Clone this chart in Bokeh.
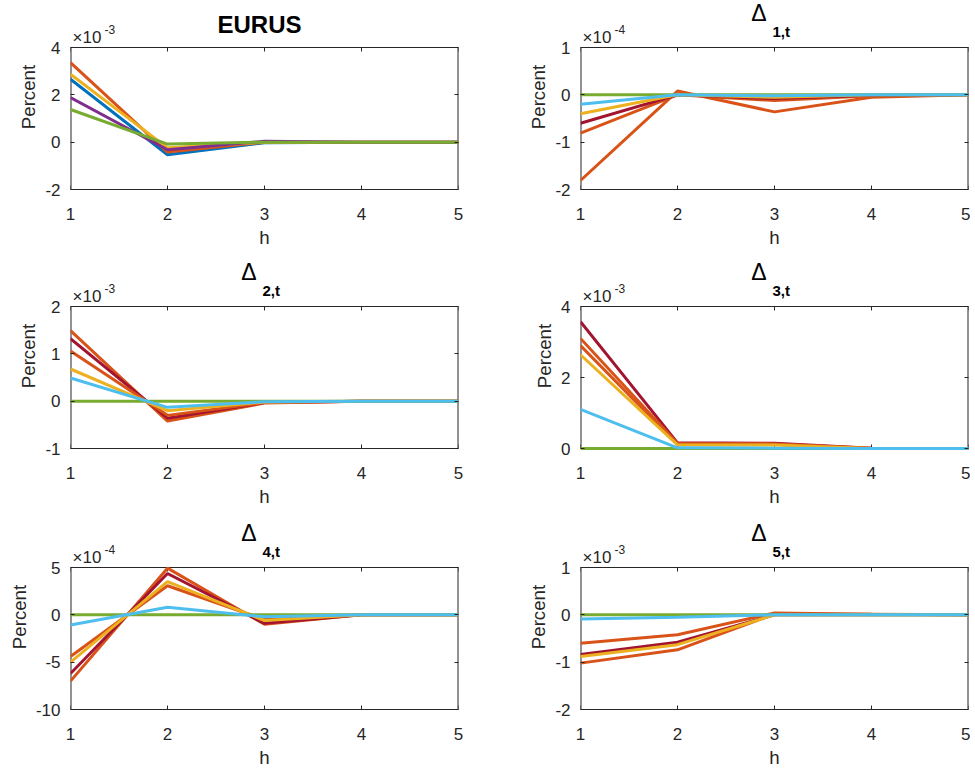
import math
from bokeh.plotting import figure
from bokeh.models import LinearAxis, FixedTicker, CustomJSTickFormatter, Range1d, Label
from bokeh.layouts import column, row
from bokeh.embed import file_html
from bokeh.resources import INLINE

# ---------------- data ----------------
H = [1, 2, 3, 4, 5]
X_TICKS = [1, 2, 3, 4, 5]

# MATLAB default colour order
C_BLUE = "#0072BD"
C_ORANGE = "#D95319"
C_YELLOW = "#EDB120"
C_PURPLE = "#7E2F8E"
C_GREEN = "#77AC30"
C_LBLUE = "#4DBEEE"
C_DRED = "#A2142F"

# EURUS (percent)
eurus_blue = [2.66e-3, -0.53e-3, -0.02e-3, 0.0, 0.0]
eurus_orange = [3.36e-3, -0.42e-3, 0.0, 0.0, 0.0]
eurus_yellow = [2.87e-3, -0.24e-3, 0.0, 0.0, 0.0]
eurus_purple = [1.88e-3, -0.32e-3, 0.04e-3, 0.0, 0.0]
eurus_green = [1.38e-3, -0.08e-3, 0.0, 0.0, 0.0]
eurus_yticks = [-2e-3, 0.0, 2e-3, 4e-3]

# Delta 1,t
d1_orange_a = [-1.81e-4, 0.08e-4, -0.36e-4, -0.05e-4, 0.0]
d1_orange_b = [-0.81e-4, 0.0, -0.12e-4, -0.02e-4, 0.0]
d1_dred = [-0.60e-4, 0.0, -0.08e-4, -0.01e-4, 0.0]
d1_yellow = [-0.40e-4, 0.0, -0.05e-4, 0.0, 0.0]
d1_green = [0.0, 0.0, 0.0, 0.0, 0.0]
d1_lblue = [-0.20e-4, 0.0, -0.02e-4, 0.0, 0.0]
d1_yticks = [-2e-4, -1e-4, 0.0, 1e-4]

# Delta 2,t
d2_orange_a = [1.49e-3, -0.42e-3, -0.04e-3, 0.0, 0.0]
d2_dred = [1.32e-3, -0.36e-3, -0.03e-3, 0.0, 0.0]
d2_orange_b = [1.06e-3, -0.30e-3, -0.03e-3, 0.0, 0.0]
d2_yellow = [0.68e-3, -0.20e-3, -0.02e-3, 0.0, 0.0]
d2_green = [0.0, 0.0, 0.0, 0.0, 0.0]
d2_lblue = [0.49e-3, -0.13e-3, -0.01e-3, 0.0, 0.0]
d2_yticks = [-1e-3, 0.0, 1e-3, 2e-3]

# Delta 3,t
d3_dred = [3.57e-3, 0.16e-3, 0.15e-3, 0.01e-3, 0.0]
d3_orange_a = [3.10e-3, 0.14e-3, 0.13e-3, 0.01e-3, 0.0]
d3_orange_b = [2.90e-3, 0.12e-3, 0.12e-3, 0.0, 0.0]
d3_yellow = [2.64e-3, 0.10e-3, 0.10e-3, 0.0, 0.0]
d3_green = [0.0, 0.0, 0.0, 0.0, 0.0]
d3_lblue = [1.10e-3, 0.02e-3, 0.01e-3, 0.0, 0.0]
d3_yticks = [0.0, 2e-3, 4e-3]

# Delta 4,t
d4_orange_a = [-7.0e-4, 4.93e-4, -1.0e-4, 0.0, 0.0]
d4_dred = [-6.2e-4, 4.37e-4, -0.9e-4, 0.0, 0.0]
d4_orange_b = [-4.4e-4, 3.07e-4, -0.5e-4, 0.0, 0.0]
d4_yellow = [-5.0e-4, 3.5e-4, -0.6e-4, 0.0, 0.0]
d4_green = [0.0, 0.0, 0.0, 0.0, 0.0]
d4_lblue = [-1.08e-4, 0.8e-4, -0.2e-4, 0.0, 0.0]
d4_yticks = [-10e-4, -5e-4, 0.0, 5e-4]

# Delta 5,t
d5_orange_a = [-1.02e-3, -0.74e-3, 0.02e-3, 0.01e-3, 0.0]
d5_orange_b = [-0.60e-3, -0.42e-3, 0.04e-3, 0.01e-3, 0.0]
d5_dred = [-0.84e-3, -0.58e-3, 0.0, 0.0, 0.0]
d5_yellow = [-0.88e-3, -0.63e-3, 0.0, 0.0, 0.0]
d5_green = [0.0, 0.0, 0.0, 0.0, 0.0]
d5_lblue = [-0.09e-3, -0.05e-3, 0.0, 0.0, 0.0]
d5_yticks = [-2e-3, -1e-3, 0.0, 1e-3]

PANELS = [
    dict(title="EURUS", sub=None, scale=1e-3, exp="-3", yticks=eurus_yticks,
         series=[(eurus_blue, C_BLUE), (eurus_orange, C_ORANGE), (eurus_yellow, C_YELLOW),
                 (eurus_purple, C_PURPLE), (eurus_green, C_GREEN)]),
    dict(title="\u0394", sub="1,t", scale=1e-4, exp="-4", yticks=d1_yticks,
         series=[(d1_orange_a, C_ORANGE), (d1_orange_b, C_ORANGE), (d1_dred, C_DRED),
                 (d1_yellow, C_YELLOW), (d1_green, C_GREEN), (d1_lblue, C_LBLUE)]),
    dict(title="\u0394", sub="2,t", scale=1e-3, exp="-3", yticks=d2_yticks,
         series=[(d2_orange_a, C_ORANGE), (d2_dred, C_DRED), (d2_orange_b, C_ORANGE),
                 (d2_yellow, C_YELLOW), (d2_green, C_GREEN), (d2_lblue, C_LBLUE)]),
    dict(title="\u0394", sub="3,t", scale=1e-3, exp="-3", yticks=d3_yticks,
         series=[(d3_dred, C_DRED), (d3_orange_a, C_ORANGE), (d3_orange_b, C_ORANGE),
                 (d3_yellow, C_YELLOW), (d3_green, C_GREEN), (d3_lblue, C_LBLUE)]),
    dict(title="\u0394", sub="4,t", scale=1e-4, exp="-4", yticks=d4_yticks,
         series=[(d4_orange_a, C_ORANGE), (d4_dred, C_DRED), (d4_orange_b, C_ORANGE),
                 (d4_yellow, C_YELLOW), (d4_green, C_GREEN), (d4_lblue, C_LBLUE)]),
    dict(title="\u0394", sub="5,t", scale=1e-3, exp="-3", yticks=d5_yticks,
         series=[(d5_orange_a, C_ORANGE), (d5_orange_b, C_ORANGE), (d5_dred, C_DRED),
                 (d5_yellow, C_YELLOW), (d5_green, C_GREEN), (d5_lblue, C_LBLUE)]),
]

# ---------------- styling / layout ----------------
FONT = "Liberation Sans"
AX = "#262626"
BOX_W, BOX_H = 388, 142      # data box (MATLAB axes) size in px
TOP_PAD = 46                 # room for title/exponent inside the frame
BOT_PAD = 3                  # so lines lying on the lower edge are not cut
COL_BORDERS = [(70, 30), (92, 2)]           # (left, right)
ROW_BORDERS = [(1, 67), (1, 69), (1, 59)]   # (top, bottom)


def make_panel(i, cfg):
    r, c = divmod(i, 2)
    bl, br = COL_BORDERS[c]
    bt, bb = ROW_BORDERS[r]
    yt = cfg["yticks"]
    ymin, ymax = min(yt), max(yt)
    per_px = (ymax - ymin) / BOX_H
    p = figure(frame_width=BOX_W, frame_height=BOX_H + TOP_PAD + BOT_PAD,
               x_range=Range1d(H[0], H[-1]),
               y_range=Range1d(ymin - BOT_PAD * per_px, ymax + TOP_PAD * per_px),
               output_backend="svg", toolbar_location=None,
               min_border_left=bl, min_border_right=br,
               min_border_top=bt, min_border_bottom=bb)
    p.title.visible = False
    p.grid.visible = False
    p.outline_line_color = None
    p.background_fill_color = "white"
    p.border_fill_color = "white"

    yfmt = CustomJSTickFormatter(args=dict(s=cfg["scale"]),
                                 code="return Math.round(tick / s).toString();")
    for ax in p.xaxis:
        ax.ticker = FixedTicker(ticks=X_TICKS)
        ax.axis_label = "h"
        ax.axis_line_color = None
        ax.major_tick_line_color = None
        ax.major_label_standoff = 15
        ax.axis_label_standoff = 4
    for ax in p.yaxis:
        ax.ticker = FixedTicker(ticks=yt)
        ax.formatter = yfmt
        ax.axis_label = "Percent"
        ax.axis_line_color = None
        ax.major_tick_line_color = AX
        ax.major_label_standoff = 10
        ax.axis_label_standoff = 3
    for ax in list(p.xaxis) + list(p.yaxis):
        ax.major_tick_in = 4
        ax.major_tick_out = 0
        ax.minor_tick_line_color = None
        ax.major_label_text_font = FONT
        ax.major_label_text_font_size = "17px"
        ax.major_label_text_color = AX
        ax.axis_label_text_font = FONT
        ax.axis_label_text_font_size = "18.7px"
        ax.axis_label_text_font_style = "normal"
        ax.axis_label_text_color = AX

    # mirrored ticks on the right
    blank = CustomJSTickFormatter(code="return '';")
    right = LinearAxis(ticker=FixedTicker(ticks=yt), formatter=blank,
                       major_tick_in=4, major_tick_out=0, major_label_standoff=0,
                       minor_tick_line_color=None, axis_line_color=None,
                       major_tick_line_color=AX)
    p.add_layout(right, "right")

    # box edges of the data area
    p.segment(x0=[H[0], H[-1]], y0=[ymin, ymin], x1=[H[0], H[-1]], y1=[ymax, ymax],
              line_color=AX, line_width=2)
    p.segment(x0=[H[0], H[0]], y0=[ymax, ymin], x1=[H[-1], H[-1]], y1=[ymax, ymin],
              line_color=AX, line_width=1)
    # ticks on the top and bottom edges (pointing inwards)
    p.ray(x=X_TICKS, y=[ymax] * len(X_TICKS), length=4, length_units="screen",
          angle=-math.pi / 2, line_color=AX, line_width=1)
    p.ray(x=X_TICKS, y=[ymin] * len(X_TICKS), length=4, length_units="screen",
          angle=math.pi / 2, line_color=AX, line_width=1)

    for ys, col in cfg["series"]:
        p.line(H, ys, line_color=col, line_width=3)

    # title
    if cfg["sub"] is None:
        p.add_layout(Label(x=BOX_W / 2 - 5, y=BOX_H + 26, x_units="screen", y_units="screen",
                           text=cfg["title"], text_align="center", text_baseline="alphabetic",
                           text_font=FONT, text_font_size="24px", text_font_style="bold",
                           text_color="black"))
    else:
        p.add_layout(Label(x=BOX_W / 2 - 8, y=BOX_H + 38, x_units="screen", y_units="screen",
                           text=cfg["title"], text_align="right", text_baseline="alphabetic",
                           text_font=FONT, text_font_size="23px", text_color="black"))
        p.add_layout(Label(x=BOX_W / 2 - 2, y=BOX_H + 19, x_units="screen", y_units="screen",
                           text=cfg["sub"], text_align="left", text_baseline="alphabetic",
                           text_font=FONT, text_font_size="15px", text_font_style="bold",
                           text_color="black"))
    # exponent multiplier
    p.add_layout(Label(x=2, y=BOX_H + 13, x_units="screen", y_units="screen",
                       text="\u00d710", text_align="left", text_baseline="alphabetic",
                       text_font=FONT, text_font_size="17px", text_color=AX))
    p.add_layout(Label(x=34, y=BOX_H + 21, x_units="screen", y_units="screen",
                       text=cfg["exp"], text_align="left", text_baseline="alphabetic",
                       text_font=FONT, text_font_size="12px", text_color=AX))
    return p


plots = [make_panel(i, cfg) for i, cfg in enumerate(PANELS)]
layout = column(row(plots[0], plots[1]), row(plots[2], plots[3]), row(plots[4], plots[5]))

with open("out.html", "w") as f:
    f.write(file_html(layout, INLINE))
